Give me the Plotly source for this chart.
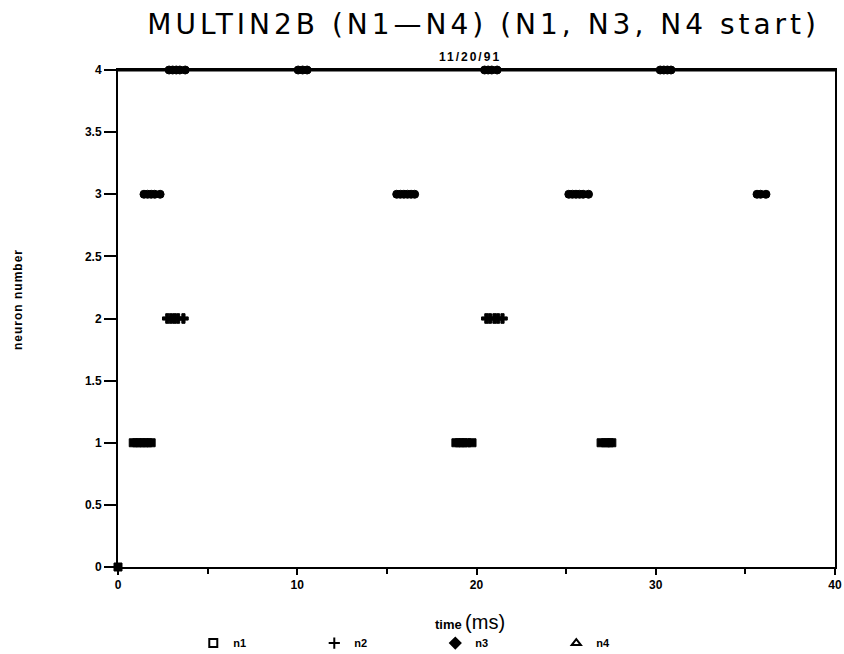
import plotly.graph_objects as go

# Spike times (ms) for each neuron
n1_t = [0.0, 0.85, 1.05, 1.25, 1.45, 1.65, 1.85, 18.85, 19.05, 19.25, 19.45, 19.75, 26.95, 27.2, 27.4, 27.55]
n1_y = [0, 1, 1, 1, 1, 1, 1, 1, 1, 1, 1, 1, 1, 1, 1, 1]
n2_t = [2.75, 2.95, 3.15, 3.35, 3.65, 20.55, 20.75, 21.0, 21.2, 21.45]
n2_y = [2, 2, 2, 2, 2, 2, 2, 2, 2, 2]
n3_t = [1.45, 1.65, 1.85, 2.05, 2.35, 15.55, 15.75, 15.95, 16.15, 16.35, 16.55,
        25.15, 25.35, 25.55, 25.75, 25.95, 26.25, 35.65, 35.85, 36.15]
n3_y = [3] * 20
n4_t = [2.85, 3.05, 3.25, 3.45, 3.75, 10.05, 10.3, 10.55, 20.45, 20.65, 20.85, 21.15,
        30.25, 30.45, 30.65, 30.85]
n4_y = [4] * 16

y_ticks = [0, 0.5, 1, 1.5, 2, 2.5, 3, 3.5, 4]
y_tick_text = ["0", "0.5", "1", "1.5", "2", "2.5", "3", "3.5", "4"]
x_ticks = [0, 10, 20, 30, 40]
x_tick_text = ["0", "10", "20", "30", "40"]

# name, times, values, symbol for the blobs, symbol for the legend
series = [
    ("n1", n1_t, n1_y, "square", "square-open"),
    ("n2", n2_t, n2_y, "cross", "cross-thin-open"),
    ("n3", n3_t, n3_y, "circle", "diamond"),
    ("n4", n4_t, n4_y, "circle", "triangle-up-open"),
]

fig = go.Figure()
for name, xs, ys, sym, lsym in series:
    fig.add_trace(go.Scatter(
        x=xs, y=ys, mode="markers", name=name, cliponaxis=False, showlegend=False,
        marker=dict(symbol=sym, size=8, color="black",
                    line=dict(color="black", width=1)),
    ))
for name, xs, ys, sym, lsym in series:
    fig.add_trace(go.Scatter(
        x=[None], y=[None], mode="markers", name=name, showlegend=True,
        marker=dict(symbol=lsym, size=8, color="black",
                    line=dict(color="black", width=2)),
    ))

tick_font = dict(family="Liberation Sans", size=12, color="black", weight="bold")

fig.update_layout(
    width=844, height=654,
    margin=dict(l=118, r=9, t=70, b=87, autoexpand=False),
    paper_bgcolor="white", plot_bgcolor="white",
    showlegend=True,
    title=dict(text="<span style='letter-spacing:4px'>MULTIN2B (N1—N4) (N1, N3, N4 start)</span>",
               font=dict(family="DejaVu Sans", size=28, color="black"),
               xref="paper", x=0.51, xanchor="center",
               y=1 - 24 / 654, yanchor="middle"),
    legend=dict(orientation="h", x=0.105, xanchor="left", y=-0.153, yanchor="middle",
                entrywidth=76, entrywidthmode="pixels", itemwidth=30,
                font=dict(family="Liberation Sans", size=11, color="black", weight="bold"),
                bgcolor="rgba(0,0,0,0)"),
    xaxis=dict(range=[0, 40], tickvals=x_ticks, ticktext=x_tick_text, automargin=False,
               showgrid=False, zeroline=False, showline=True, linecolor="black",
               linewidth=2, mirror=True, ticks="outside", ticklen=6, tickwidth=2,
               tickcolor="black", tickfont=tick_font,
               minor=dict(dtick=5, ticks="outside", ticklen=5, tickwidth=1.5,
                          tickcolor="black", showgrid=False)),
    yaxis=dict(range=[0, 4], tickvals=y_ticks, ticktext=y_tick_text, automargin=False,
               showgrid=False, zeroline=False, showline=True, linecolor="black",
               linewidth=2, mirror=True, ticks="outside", ticklen=12, tickwidth=2,
               tickcolor="black", tickfont=tick_font),
    annotations=[
        dict(text="<span style='letter-spacing:1px'>neuron number</span>",
             xref="paper", yref="paper", x=(18 - 118) / 717, y=(567 - 300) / 497,
             textangle=-90, showarrow=False, xanchor="center", yanchor="middle",
             font=dict(family="Liberation Sans", size=12, color="black", weight="bold")),
        dict(text="<span style='letter-spacing:2px'>11/20/91</span>",
             xref="paper", yref="paper", x=0.491, y=1,
             yanchor="middle", yshift=13, showarrow=False,
             font=dict(family="Liberation Sans", size=12, color="black", weight="bold")),
        dict(text="<b style='font-size:13px'>time</b> <span style='font-size:20px'>(ms)</span>",
             xref="paper", yref="paper", x=0.491, y=0, yanchor="middle", yshift=-55,
             showarrow=False, font=dict(family="Liberation Sans", color="black")),
    ],
)

fig.add_shape(type="line", xref="paper", yref="paper", x0=0, x1=1, y0=1, y1=1,
              line=dict(color="black", width=3))

fig.write_html("out.html")
